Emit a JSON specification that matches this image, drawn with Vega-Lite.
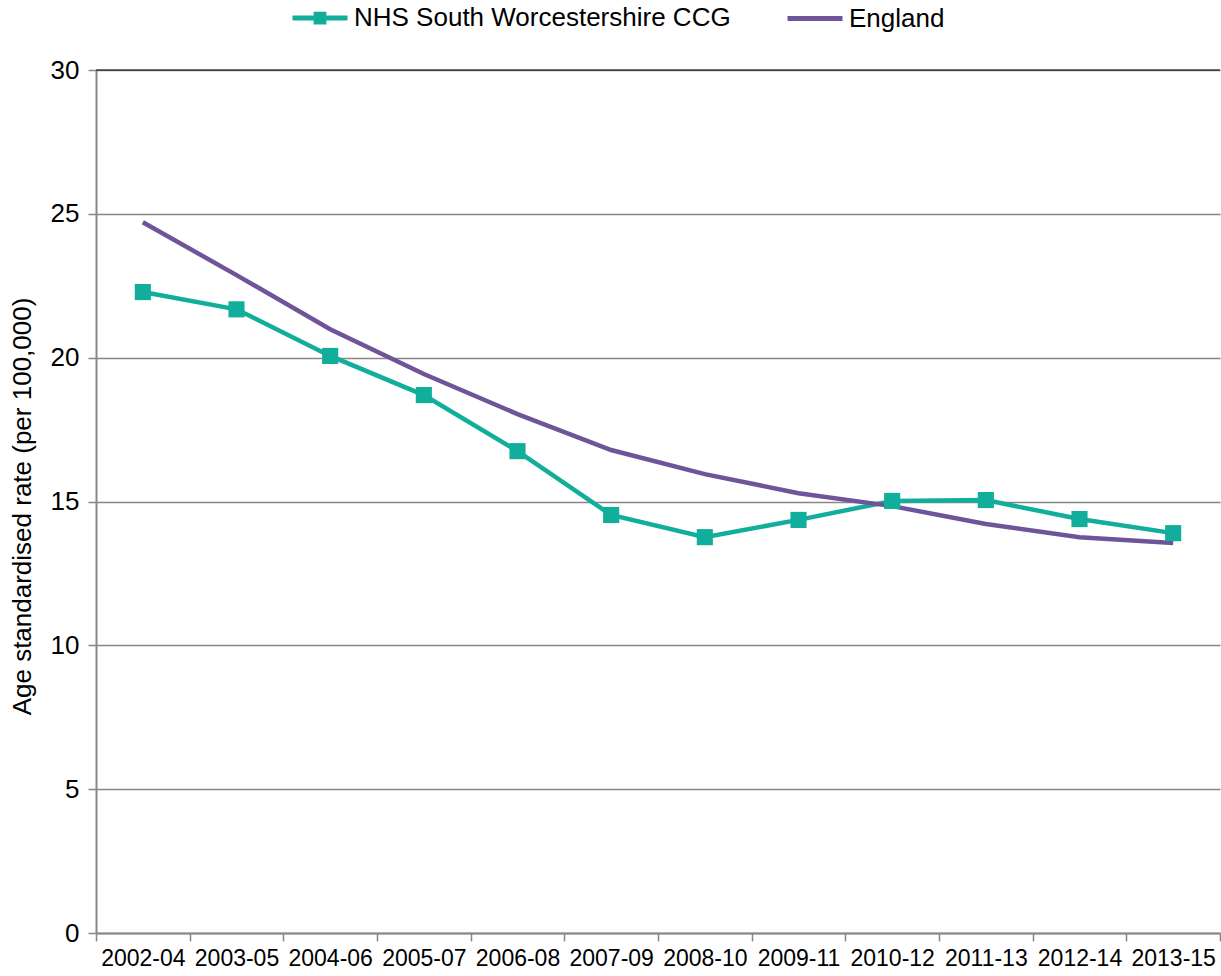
{
  "$schema": "https://vega.github.io/schema/vega-lite/v6.json",
  "width": 1124,
  "height": 863,
  "autosize": {"type": "none"},
  "padding": {"left": 96, "top": 70, "right": 1, "bottom": 43},
  "background": "white",
  "config": {"font": "Liberation Sans", "view": {"stroke": null}},
  "data": {
    "values": [
      {"period": "2002-04", "series": "NHS South Worcestershire CCG", "rate": 22.28},
      {"period": "2003-05", "series": "NHS South Worcestershire CCG", "rate": 21.68},
      {"period": "2004-06", "series": "NHS South Worcestershire CCG", "rate": 20.06},
      {"period": "2005-07", "series": "NHS South Worcestershire CCG", "rate": 18.70},
      {"period": "2006-08", "series": "NHS South Worcestershire CCG", "rate": 16.75},
      {"period": "2007-09", "series": "NHS South Worcestershire CCG", "rate": 14.53},
      {"period": "2008-10", "series": "NHS South Worcestershire CCG", "rate": 13.76},
      {"period": "2009-11", "series": "NHS South Worcestershire CCG", "rate": 14.36},
      {"period": "2010-12", "series": "NHS South Worcestershire CCG", "rate": 15.02},
      {"period": "2011-13", "series": "NHS South Worcestershire CCG", "rate": 15.05},
      {"period": "2012-14", "series": "NHS South Worcestershire CCG", "rate": 14.39},
      {"period": "2013-15", "series": "NHS South Worcestershire CCG", "rate": 13.90},
      {"period": "2002-04", "series": "England", "rate": 24.71},
      {"period": "2003-05", "series": "England", "rate": 22.87},
      {"period": "2004-06", "series": "England", "rate": 20.99},
      {"period": "2005-07", "series": "England", "rate": 19.43},
      {"period": "2006-08", "series": "England", "rate": 18.04},
      {"period": "2007-09", "series": "England", "rate": 16.79},
      {"period": "2008-10", "series": "England", "rate": 15.95},
      {"period": "2009-11", "series": "England", "rate": 15.29},
      {"period": "2010-12", "series": "England", "rate": 14.84},
      {"period": "2011-13", "series": "England", "rate": 14.22},
      {"period": "2012-14", "series": "England", "rate": 13.76},
      {"period": "2013-15", "series": "England", "rate": 13.56}
    ]
  },
  "layer": [
    {
      "data": {"values": [{"top": 30}]},
      "mark": {"type": "rule", "color": "black", "strokeWidth": 1.2},
      "encoding": {"y": {"field": "top", "type": "quantitative"}}
    },
    {
      "mark": {"type": "line", "strokeWidth": 4.5},
      "encoding": {
        "x": {
          "field": "period",
          "type": "ordinal",
          "scale": {"type": "band", "paddingInner": 0, "paddingOuter": 0},
          "axis": {
            "title": null,
            "labelAngle": 0,
            "tickBand": "extent",
            "domainColor": "#878787",
            "domainWidth": 2,
            "tickColor": "#878787",
            "tickWidth": 1.5,
            "tickSize": 8,
            "labelFontSize": 23,
            "labelColor": "black",
            "labelPadding": 6,
            "grid": false
          }
        },
        "y": {
          "field": "rate",
          "type": "quantitative",
          "scale": {"domain": [0, 30], "nice": false},
          "axis": {
            "title": "Age standardised rate (per 100,000)",
            "values": [0, 5, 10, 15, 20, 25, 30],
            "grid": true,
            "gridColor": "#878787",
            "gridWidth": 1.5,
            "domainColor": "#878787",
            "domainWidth": 2,
            "tickColor": "#878787",
            "tickWidth": 1.5,
            "tickSize": 8,
            "labelFontSize": 26,
            "labelColor": "black",
            "labelPadding": 9,
            "titleFontSize": 26,
            "titleFontWeight": "normal",
            "titleColor": "black",
            "titleX": -74,
            "titleY": 436,
            "titleBaseline": "middle",
            "titleAlign": "center"
          }
        },
        "color": {
          "field": "series",
          "type": "nominal",
          "scale": {
            "domain": ["NHS South Worcestershire CCG", "England"],
            "range": ["#12AE9C", "#6F5499"]
          },
          "legend": {
            "title": null,
            "orient": "none",
            "direction": "horizontal",
            "legendX": 194,
            "legendY": -82,
            "symbolType": {"expr": "datum.value === 'England' ? 'M-1,0H1' : 'M-1,0H1M-0.14,-0.14H0.14V0.14H-0.14Z'"},
            "symbolSize": 3025,
            "symbolStrokeWidth": 5,
            "symbolFillColor": "#12AE9C",
            "symbolOpacity": 1,
            "labelFontSize": 26,
            "labelColor": "black",
            "labelOffset": 4,
            "labelLimit": 0,
            "columnPadding": 46
          }
        }
      }
    },
    {
      "transform": [{"filter": "datum.series === 'NHS South Worcestershire CCG'"}],
      "mark": {"type": "point", "shape": "square", "filled": true, "size": 260, "color": "#12AE9C", "opacity": 1},
      "encoding": {
        "x": {"field": "period", "type": "ordinal"},
        "y": {"field": "rate", "type": "quantitative"}
      }
    }
  ]
}
